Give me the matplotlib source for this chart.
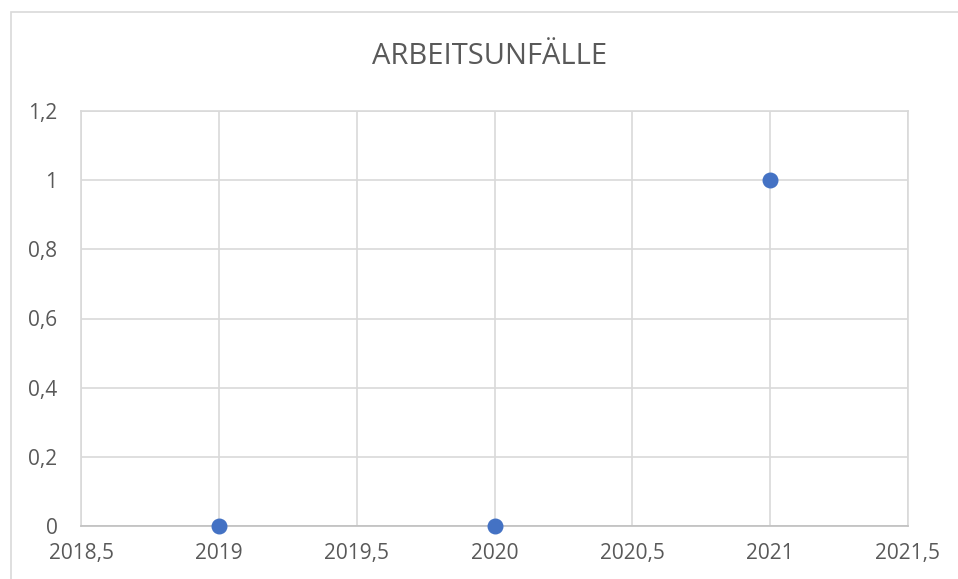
import matplotlib
matplotlib.use('Agg')
import matplotlib.pyplot as plt
from matplotlib.ticker import FuncFormatter
from matplotlib.patches import Rectangle

years = [2019, 2020, 2021]
accidents = [0, 0, 1]
title = 'ARBEITSUNFÄLLE'

plt.rcParams['font.family'] = ['Open Sans', 'DejaVu Sans']

fig = plt.figure(figsize=(9.58, 5.79), dpi=100)
# outer chart frame (as in Excel)
fig.patches.append(Rectangle((11 / 958, -0.1), 1.2, 1 - 12 / 579 + 0.1, transform=fig.transFigure,
                             fill=False, edgecolor='#d9d9d9', linewidth=1.2))

ax = fig.add_axes([81 / 958, 1 - 526 / 579, (908 - 81) / 958, (526 - 111) / 579])
ax.scatter(years, accidents, s=110, color='#4472C4', zorder=3, clip_on=False)

ax.set_xlim(2018.5, 2021.5)
ax.set_ylim(0, 1.2)
ax.set_xticks([2018.5, 2019, 2019.5, 2020, 2020.5, 2021, 2021.5])
ax.set_yticks([0, 0.2, 0.4, 0.6, 0.8, 1, 1.2])

def comma(v, pos):
    s = ('%.1f' % v).rstrip('0').rstrip('.')
    return s.replace('.', ',')

ax.xaxis.set_major_formatter(FuncFormatter(comma))
ax.yaxis.set_major_formatter(FuncFormatter(comma))

ax.grid(True, color='#d9d9d9', linewidth=1.2)
ax.set_axisbelow(True)
for s in ax.spines.values():
    s.set_color('#d9d9d9')
    s.set_linewidth(1.2)
ax.spines['bottom'].set_color('#bfbfbf')
ax.tick_params(length=0, labelsize=15, labelcolor='#595959', pad=12)
ax.tick_params(axis='y', pad=17)

fig.text(490 / 958, 1 - 57 / 579, title, ha='center', va='center', fontsize=21, color='#595959')

plt.savefig('out.png', dpi=100)
